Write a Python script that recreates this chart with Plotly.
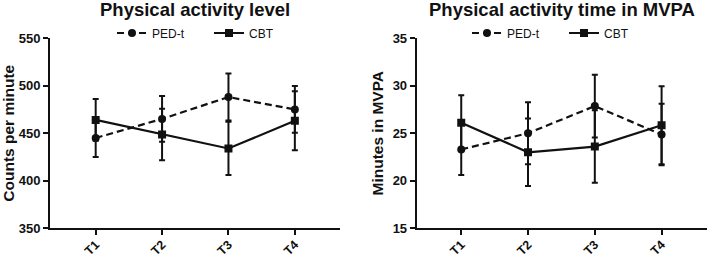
import plotly.graph_objects as go

timepoints = ["T1", "T2", "T3", "T4"]

# Physical activity level (counts per minute)
cpm_ped_mean = [445, 465, 488, 475]
cpm_ped_err = [20, 24, 24.6, 24.6]
cpm_cbt_mean = [464, 448.6, 434, 463]
cpm_cbt_err = [22, 27, 28, 31]

# Physical activity time in MVPA (minutes)
mvpa_ped_mean = [23.3, 25.0, 27.85, 24.86]
mvpa_ped_err = [2.7, 3.25, 3.3, 3.23]
mvpa_cbt_mean = [26.1, 23.0, 23.6, 25.83]
mvpa_cbt_err = [2.9, 3.55, 3.8, 4.1]

FONT = "Liberation Sans, Arial, sans-serif"
BLACK = "#111111"

fig = go.Figure()


def add_series(x_ax, y_ax, y, err, name, dash, symbol, legend):
    fig.add_trace(go.Scatter(
        x=timepoints, y=y, name=name, xaxis=x_ax, yaxis=y_ax,
        mode="lines+markers", legend=legend,
        line=dict(color=BLACK, width=2.2, dash=dash),
        marker=dict(symbol=symbol, size=8, color=BLACK),
        error_y=dict(type="data", array=err, visible=True,
                     color=BLACK, thickness=2, width=3),
    ))


add_series("x", "y", cpm_ped_mean, cpm_ped_err, "PED-t", "7px,4px", "circle", "legend")
add_series("x", "y", cpm_cbt_mean, cpm_cbt_err, "CBT", "solid", "square", "legend")
add_series("x2", "y2", mvpa_ped_mean, mvpa_ped_err, "PED-t", "7px,4px", "circle", "legend2")
add_series("x2", "y2", mvpa_cbt_mean, mvpa_cbt_err, "CBT", "solid", "square", "legend2")

ydom = [0.118, 0.8533]
xaxis_common = dict(
    type="category", showline=True, linecolor=BLACK, linewidth=2,
    ticks="outside", ticklen=5, tickwidth=2, tickcolor=BLACK,
    tickangle=-45, showgrid=False, zeroline=False, automargin=False,
    ticklabelstandoff=-3,
    tickfont=dict(family=FONT, size=12.5, color=BLACK, weight="bold"),
)
yaxis_common = dict(
    showline=True, linecolor=BLACK, linewidth=2,
    ticks="outside", ticklen=5, tickwidth=2, tickcolor=BLACK,
    showgrid=False, zeroline=False, automargin=False,
    tickfont=dict(family=FONT, size=13, color=BLACK, weight="bold"),
    domain=ydom,
)

fig.update_layout(
    width=707, height=259,
    margin=dict(l=0, r=0, t=0, b=0),
    paper_bgcolor="white", plot_bgcolor="white",
    hovermode=False,
    font=dict(family=FONT, color=BLACK),
    xaxis=dict(xaxis_common, domain=[50 / 707, 340 / 707], range=[-0.688, 3.68], anchor="y"),
    yaxis=dict(yaxis_common, range=[350, 550], tickvals=[350, 400, 450, 500, 550], anchor="x",
               title=dict(text="<b>Counts per minute</b>", standoff=5,
                          font=dict(family=FONT, size=15.5, color=BLACK))),
    xaxis2=dict(xaxis_common, domain=[416.7 / 707, 1.0], range=[-0.667, 3.68], anchor="y2"),
    yaxis2=dict(yaxis_common, range=[15, 35], tickvals=[15, 20, 25, 30, 35], anchor="x2",
                title=dict(text="<b>Minutes in MVPA</b>", standoff=5,
                           font=dict(family=FONT, size=15.5, color=BLACK))),
    legend=dict(orientation="h", x=112 / 707, y=1 - 33 / 259, xanchor="left", yanchor="middle",
                font=dict(family=FONT, size=12, color=BLACK), bgcolor="rgba(0,0,0,0)",
                entrywidth=52, itemwidth=30),
    legend2=dict(orientation="h", x=467 / 707, y=1 - 33 / 259, xanchor="left", yanchor="middle",
                 font=dict(family=FONT, size=12, color=BLACK), bgcolor="rgba(0,0,0,0)",
                 entrywidth=52, itemwidth=30),
    annotations=[
        dict(text="<b>Physical activity level</b>", x=195 / 707, y=1 - 9 / 259,
             xref="paper", yref="paper", showarrow=False, xanchor="center", yanchor="middle",
             font=dict(family=FONT, size=18.5, color=BLACK)),
        dict(text="<b>Physical activity time in MVPA</b>", x=562 / 707, y=1 - 9 / 259,
             xref="paper", yref="paper", showarrow=False, xanchor="center", yanchor="middle",
             font=dict(family=FONT, size=18.5, color=BLACK)),
    ],
)

fig.write_html("out.html", config={"displayModeBar": False},
               post_script="document.body.style.margin='0';document.body.style.overflow='hidden';")
